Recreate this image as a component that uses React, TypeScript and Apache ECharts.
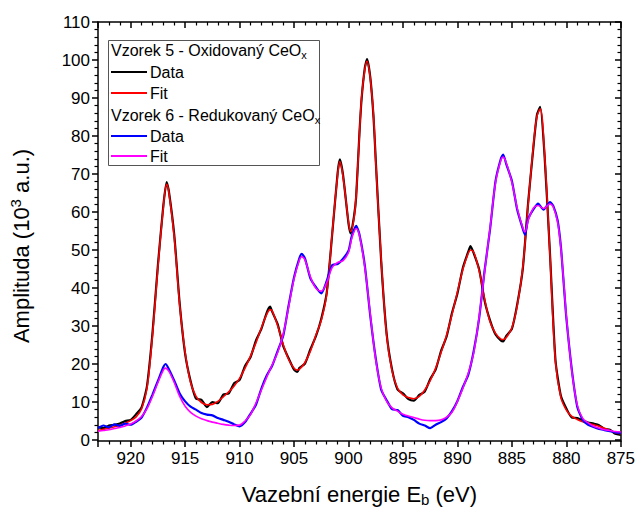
import React, { useEffect, useRef } from 'react';
import * as echarts from 'echarts';

// Sample 5 (Oxidovaný CeOx): binding energy (eV) and amplitude (10^3 a.u.)
const E5 = [
  923, 922.5, 922, 921.5, 921, 920.5, 920, 919.5, 919, 918.5,
  918, 917.5, 917, 916.7, 916.5, 916, 915.5, 915, 914.5, 914,
  913.5, 913, 912.5, 912, 911.5, 911, 910.5, 910, 909.5, 909,
  908.5, 908, 907.5, 907.2, 907, 906.5, 906, 905.5, 905, 904.7,
  904.5, 904, 903.5, 903, 902.5, 902, 901.5, 901, 900.8, 900.5,
  900, 899.8, 899.5, 899.3, 899, 898.8, 898.5, 898.3, 898, 897.7,
  897.5, 897, 896.5, 896, 895.5, 895, 894.5, 894, 893.5, 893,
  892.5, 892, 891.5, 891, 890.5, 890, 889.5, 889, 888.8, 888.5,
  888, 887.5, 887, 886.5, 886, 885.8, 885.5, 885, 884.5, 884,
  883.5, 883, 882.7, 882.4, 882, 881.5, 881, 880.5, 880, 879.5,
  879, 878.5, 878, 877.5, 877, 876.5, 876, 875.5, 875,
];
const FIT5 = [
  1.8, 2.1, 2.4, 2.8, 3.2, 3.7, 4.4, 5.4, 7.5, 13.0,
  27.0, 45.0, 61.0, 67.0, 65.0, 53.0, 35.0, 22.5, 14.5, 10.8,
  9.2, 8.6, 8.7, 9.5, 10.7, 12.0, 13.6, 15.6, 18.3, 21.5,
  25.0, 29.0, 32.6, 33.8, 33.4, 29.5, 24.6, 20.6, 18.3, 17.8,
  18.0, 19.8, 22.8, 27.0, 31.0, 38.0, 54.0, 69.5, 73.0, 69.0,
  57.0, 54.5, 58.0, 64.0, 80.0, 90.0, 97.5, 99.6, 95.0, 85.0,
  73.0, 47.0, 27.0, 17.5, 13.0, 11.2, 10.5, 10.2, 10.8, 12.5,
  15.0, 18.3, 22.5, 27.0, 32.5, 38.5, 44.5, 48.8, 49.6, 49.0,
  44.0, 36.5, 30.5, 27.5, 26.0, 25.9, 26.5, 29.0, 35.0, 45.0,
  62.0, 78.0, 85.0, 87.0, 75.0, 48.0, 20.0, 10.5, 7.2, 5.5,
  4.7, 4.1, 3.7, 3.3, 2.9, 2.4, 1.8, 1.2, 0.9,
];
const DATA5 = [
  2.6, 2.4, 3.1, 3.3, 3.6, 4.3, 4.6, 6.1, 7.9, 13.6,
  27.5, 45.6, 61.4, 67.6, 65.3, 53.6, 35.4, 22.1, 14.9, 10.2,
  9.9, 8.0, 9.3, 9.0, 11.3, 11.6, 14.3, 15.2, 18.9, 21.2,
  25.6, 28.7, 33.1, 34.6, 33.2, 29.9, 24.2, 20.9, 17.9, 17.3,
  18.4, 19.5, 23.3, 26.7, 31.4, 38.3, 53.7, 70.0, 73.6, 69.4,
  56.6, 54.0, 58.4, 63.6, 80.4, 89.6, 97.9, 100.2, 95.3, 84.6,
  73.4, 46.6, 27.4, 17.9, 12.6, 11.6, 10.1, 9.7, 11.2, 12.1,
  15.4, 17.9, 22.9, 26.6, 32.9, 38.1, 44.9, 49.2, 50.6, 48.7,
  44.4, 36.1, 30.9, 27.2, 25.6, 25.4, 26.9, 28.7, 35.4, 44.6,
  62.4, 77.6, 85.4, 87.5, 74.6, 48.4, 20.4, 10.9, 7.6, 5.2,
  5.1, 4.4, 3.9, 3.6, 3.2, 2.2, 2.0, 0.9, 0.6,
];

// Sample 6 (Redukovaný CeOx)
const E6 = [
  923, 922.5, 922, 921.5, 921, 920.5, 920, 919.5, 919, 918.5,
  918, 917.5, 917, 916.8, 916.5, 916, 915.5, 915, 914.5, 914,
  913.5, 913, 912.5, 912, 911.5, 911, 910.5, 910, 909.5, 909,
  908.5, 908, 907.5, 907, 906.5, 906, 905.5, 905, 904.5, 904.3,
  904, 903.5, 903, 902.5, 902, 901.5, 901, 900.5, 900, 899.7,
  899.3, 899, 898.5, 898, 897.5, 897, 896.5, 896, 895.5, 895,
  894.5, 894, 893.5, 893, 892.5, 892, 891.5, 891, 890.5, 890,
  889.5, 889, 888.5, 888, 887.5, 887, 886.5, 886, 885.8, 885.5,
  885, 884.5, 884, 883.8, 883.5, 883, 882.6, 882.1, 881.5, 881.2,
  880.8, 880.5, 880.2, 880, 879.5, 879, 878.5, 878, 877.5, 877,
  876.5, 876, 875.5, 875,
];
const FIT6 = [
  1.6, 1.8, 2.0, 2.3, 2.6, 3.0, 3.5, 4.3, 5.5, 7.6,
  10.8, 14.5, 17.8, 18.3, 17.5, 14.5, 10.8, 8.2, 6.6, 5.6,
  4.9, 4.4, 4.0, 3.7, 3.4, 3.2, 3.1, 3.2, 4.3, 6.0,
  9.0, 12.5, 16.0, 19.2, 22.5, 27.2, 34.5, 42.0, 47.0, 47.8,
  47.0, 42.5, 39.5, 38.7, 41.0, 45.0, 46.3, 46.8, 49.0, 52.7,
  55.3, 53.5, 45.0, 32.5, 20.5, 13.0, 9.5, 7.8, 6.9, 6.1,
  5.6, 5.2, 4.8, 4.5, 4.4, 4.4, 4.6, 5.3, 6.6, 9.5,
  13.0, 17.0, 22.5, 32.0, 44.0, 55.5, 67.5, 73.5, 74.2, 72.5,
  67.5, 60.5, 55.5, 54.4, 57.5, 60.8, 61.4, 60.6, 61.8, 61.0,
  57.0, 50.0, 39.5, 32.0, 17.6, 8.5, 5.0, 3.8, 2.9, 2.4,
  2.0, 1.8, 1.5, 1.4,
];
const DATA6 = [
  2.4, 3.1, 2.6, 3.4, 3.0, 3.6, 3.3, 4.1, 5.2, 7.9,
  11.3, 14.9, 18.6, 19.4, 18.1, 15.0, 11.6, 9.5, 8.1, 7.3,
  6.4, 6.0, 5.8, 5.1, 4.6, 4.1, 3.4, 2.9, 4.0, 6.2,
  8.6, 12.9, 16.4, 19.0, 22.9, 26.8, 34.9, 42.4, 47.5, 48.6,
  47.4, 42.1, 39.8, 38.1, 41.4, 45.6, 45.9, 47.3, 49.4, 53.3,
  56.0, 53.8, 45.4, 32.1, 20.9, 12.6, 9.8, 7.4, 7.2, 5.7,
  5.3, 4.6, 3.6, 3.1, 2.4, 3.3, 4.0, 5.0, 6.9, 9.6,
  13.3, 16.6, 22.9, 31.7, 44.3, 55.2, 67.9, 73.9, 74.9, 72.2,
  67.9, 60.1, 55.2, 53.6, 57.9, 60.5, 61.9, 60.3, 62.3, 61.3,
  57.4, 50.4, 39.1, 31.6, 17.9, 8.1, 4.6, 3.3, 2.7, 2.2,
  1.9, 1.6, 1.3, 1.1,
];

const LEGEND_ROWS = [
  { kind: 'title', text: 'Vzorek 5 - Oxidovaný CeO{sub|x}' },
  { kind: 'item', text: 'Data', color: '#000000' },
  { kind: 'item', text: 'Fit', color: '#ff0000' },
  { kind: 'title', text: 'Vzorek 6 - Redukovaný CeO{sub|x}' },
  { kind: 'item', text: 'Data', color: '#0000ff' },
  { kind: 'item', text: 'Fit', color: '#ff00ff' },
];

const FONT = '"Liberation Sans", Arial, Helvetica, sans-serif';

const pairs = (xs: number[], ys: number[]) => xs.map((x, i) => [x, ys[i]]);

export default function App() {
  const ref = useRef<HTMLDivElement>(null);

  useEffect(() => {
    if (!ref.current) return;
    const chart = echarts.init(ref.current, null, { renderer: 'svg' });

    const rowY = [50, 72, 93, 115, 136, 156];
    const legendGraphics: any[] = [
      {
        type: 'rect',
        z: 100,
        shape: { x: 108.5, y: 40.5, width: 211, height: 125 },
        style: { fill: '#ffffff', stroke: '#555555', lineWidth: 1 },
      },
    ];
    LEGEND_ROWS.forEach((r, i) => {
      const y = rowY[i];
      if (r.kind === 'item') {
        legendGraphics.push({
          type: 'line',
          z: 101,
          shape: { x1: 111, y1: y, x2: 147, y2: y },
          style: { stroke: r.color, lineWidth: 2 },
        });
      }
      legendGraphics.push({
        type: 'text',
        z: 101,
        x: r.kind === 'item' ? 150 : 111,
        y,
        style: {
          text: r.text,
          fontFamily: FONT,
          fontSize: 16,
          fill: '#000',
          verticalAlign: 'middle',
          lineHeight: 20,
          rich: {
            sub: { fontSize: 11, fontFamily: FONT, fill: '#000', verticalAlign: 'bottom', lineHeight: 11 },
          },
        },
      });
    });

    const tickLine = { color: '#000', width: 1.5 };
    const axisLine = { show: true, onZero: false, lineStyle: { color: '#000', width: 1.5 } };

    const lineSeries = (name: string, xs: number[], ys: number[], color: string, width: number, smooth: number, z: number) => ({
      name,
      type: 'line',
      xAxisIndex: 0,
      yAxisIndex: 0,
      data: pairs(xs, ys),
      showSymbol: false,
      symbol: 'none',
      smooth,
      lineStyle: { color, width },
      itemStyle: { color },
      z,
    });

    chart.setOption({
      animation: false,
      backgroundColor: '#ffffff',
      grid: [
        { left: 98, right: 17, top: 22, bottom: 68 },
        { left: 98, right: 17, top: 22, bottom: 72 },
      ],
      xAxis: [
        {
          gridIndex: 0,
          type: 'value',
          min: 875,
          max: 923,
          interval: 5,
          inverse: true,
          position: 'bottom',
          axisLine,
          axisTick: { show: true, inside: false, length: 6, lineStyle: tickLine },
          minorTick: { show: true, splitNumber: 5, length: 3.5, lineStyle: { color: '#000', width: 1.2 } },
          axisLabel: {
            color: '#000',
            fontSize: 17,
            fontFamily: FONT,
            margin: 9,
            formatter: (v: number) => (v % 5 === 0 ? String(v) : ''),
          },
          splitLine: { show: false },
          name: 'Vazební energie E{sub|b} (eV)',
          nameLocation: 'middle',
          nameGap: 40,
          nameTextStyle: {
            color: '#000',
            fontSize: 22,
            fontFamily: FONT,
            lineHeight: 26,
            rich: {
              sub: { fontSize: 15, fontFamily: FONT, color: '#000', verticalAlign: 'bottom', lineHeight: 15 },
            },
          },
        },
        {
          gridIndex: 0,
          type: 'value',
          min: 875,
          max: 923,
          interval: 5,
          inverse: true,
          position: 'top',
          axisLine,
          axisTick: { show: true, inside: true, length: 6, lineStyle: tickLine },
          minorTick: { show: true, splitNumber: 5, length: 3.5, lineStyle: { color: '#000', width: 1.2 } },
          axisLabel: { show: false },
          splitLine: { show: false },
        },
        {
          gridIndex: 1,
          type: 'value',
          min: 875,
          max: 923,
          inverse: true,
          show: false,
        },
      ],
      yAxis: [
        {
          gridIndex: 0,
          type: 'value',
          min: -1,
          max: 110,
          position: 'left',
          axisLine,
          axisTick: { show: false },
          axisLabel: { show: false },
          splitLine: { show: false },
        },
        {
          gridIndex: 0,
          type: 'value',
          min: -1,
          max: 110,
          position: 'right',
          axisLine,
          axisTick: { show: false },
          axisLabel: { show: false },
          splitLine: { show: false },
        },
        {
          gridIndex: 1,
          type: 'value',
          min: 0,
          max: 110,
          interval: 10,
          position: 'left',
          axisLine: { show: false, onZero: false },
          axisTick: { show: true, inside: false, length: 6, lineStyle: tickLine },
          minorTick: { show: true, splitNumber: 5, length: 3.5, lineStyle: { color: '#000', width: 1.2 } },
          axisLabel: { color: '#000', fontSize: 17, fontFamily: FONT, margin: 8 },
          splitLine: { show: false },
          name: 'Amplituda (10{sup|3} a.u.)',
          nameLocation: 'middle',
          nameGap: 64,
          nameTextStyle: {
            color: '#000',
            fontSize: 22,
            fontFamily: FONT,
            lineHeight: 26,
            padding: [0, 30, 0, 0],
            rich: {
              sup: { fontSize: 15, fontFamily: FONT, color: '#000', verticalAlign: 'top', lineHeight: 15 },
            },
          },
        },
        {
          gridIndex: 1,
          type: 'value',
          min: 0,
          max: 110,
          interval: 10,
          position: 'right',
          axisLine: { show: false, onZero: false },
          axisTick: { show: true, inside: true, length: 6, lineStyle: tickLine },
          minorTick: { show: true, splitNumber: 5, length: 3.5, lineStyle: { color: '#000', width: 1.2 } },
          axisLabel: { show: false },
          splitLine: { show: false },
        },
      ],
      series: [
        lineSeries('Vzorek 5 Data', E5, DATA5, '#000000', 2.2, 0.2, 2),
        lineSeries('Vzorek 5 Fit', E5, FIT5, '#ff0000', 1.6, 0.35, 3),
        lineSeries('Vzorek 6 Data', E6, DATA6, '#0000ff', 2.2, 0.2, 4),
        lineSeries('Vzorek 6 Fit', E6, FIT6, '#ff00ff', 1.6, 0.35, 5),
      ],
      graphic: legendGraphics,
    });

    return () => chart.dispose();
  }, []);

  return (
    <div
      ref={ref}
      style={{ position: 'fixed', left: 0, top: 0, width: 638, height: 512, background: '#fff' }}
    />
  );
}
